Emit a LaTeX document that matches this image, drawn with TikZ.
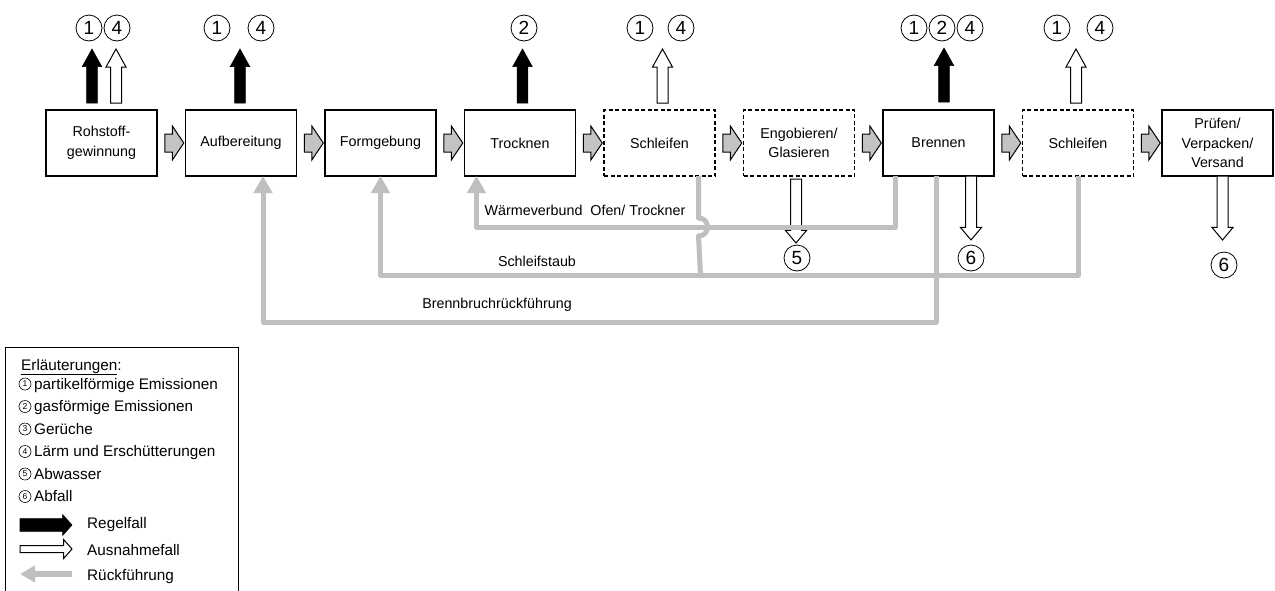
\documentclass[tikz,border=0pt]{standalone}
\usepackage{fontspec}
\setmainfont{Liberation Sans}
\usetikzlibrary{positioning,shapes.arrows,arrows.meta,calc}
\definecolor{rgray}{RGB}{191,191,191}
\definecolor{fgray}{RGB}{195,195,195}

\tikzset{
  stage/.style={draw,line width=1.3pt,minimum width=111pt,minimum height=66pt,
    align=center,inner sep=2pt,outer sep=0pt,font=\fontsize{14.3}{19.5}\selectfont},
  optstage/.style={stage,line width=1.2pt,dash pattern=on 4pt off 2.5pt},
  flowarrow/.style={single arrow,draw,fill=fgray,line width=1pt,minimum height=19pt,
    inner xsep=0pt,inner ysep=8.5pt,single arrow head extend=8pt,single arrow tip angle=112},
  blockarr/.style={single arrow,draw,minimum height=54pt,inner xsep=0pt,inner ysep=5pt,
    single arrow head extend=4.5pt,single arrow tip angle=58,anchor=tail,outer sep=0pt},
  regel/.style={blockarr,fill=black,line width=0.6pt,rotate=90},
  ausnahme/.style={blockarr,fill=white,line width=1pt,rotate=90},
  ausab/.style={blockarr,fill=white,line width=1pt,rotate=-90,minimum height=64pt,
    single arrow tip angle=80,single arrow head extend=5pt},
  ruck/.style={draw=rgray,line width=5pt,line join=round,-{Triangle[width=18pt,length=17pt]}},
  ruckline/.style={draw=rgray,line width=5pt,line join=round},
  circnum/.style={circle,draw,line width=0.8pt,minimum size=26pt,inner sep=0pt,
    font=\fontsize{19}{19}\selectfont},
  legnum/.style={circle,draw,line width=0.6pt,minimum size=12pt,inner sep=0pt,
    font=\fontsize{8.5}{8.5}\selectfont},
  lbl/.style={font=\fontsize{14.3}{17}\selectfont,inner sep=1pt},
  leg/.style={font=\fontsize{15.3}{18}\selectfont,inner sep=0pt,anchor=base west}
}

\begin{document}
\begin{tikzpicture}[x=1pt,y=-1pt]
\useasboundingbox (0,0) rectangle (1275,590);
% process chain
\node[stage] (b1) at (101.5,143) {Rohstoff-\\gewinnung};
\node[stage,right=28.5pt of b1] (b2) {Aufbereitung};
\node[stage,right=28.5pt of b2] (b3) {Formgebung};
\node[stage,right=28.5pt of b3] (b4) {Trocknen};
\node[optstage,right=28.5pt of b4] (b5) {Schleifen};
\node[optstage,right=28.5pt of b5] (b6) {Engobieren/\\Glasieren};
\node[stage,right=28.5pt of b6] (b7) {Brennen};
\node[optstage,right=28.5pt of b7] (b8) {Schleifen};
\node[stage,right=28.5pt of b8] (b9) {Prüfen/\\Verpacken/\\Versand};
\foreach \a/\b [count=\i] in {b1/b2,b2/b3,b3/b4,b4/b5,b5/b6,b6/b7,b7/b8,b8/b9}
  \node[flowarrow] (fa\i) at ($(\a.east)!.5!(\b.west)$) {};

% emissions
\node[regel] (e1) at ([xshift=-9.5pt,yshift=7pt]b1.north) {};
\node[ausnahme] (e1w) at ([xshift=14.5pt,yshift=7pt]b1.north) {};
\node[regel] (e2) at ([xshift=-1pt,yshift=7pt]b2.north) {};
\node[regel] (e4) at ([xshift=2.5pt,yshift=7pt]b4.north) {};
\node[ausnahme] (e5) at ([xshift=3pt,yshift=7pt]b5.north) {};
\node[regel] (e7) at ([xshift=5.5pt,yshift=8pt]b7.north) {};
\node[ausnahme] (e8) at ([xshift=-2pt,yshift=7pt]b8.north) {};
\node[ausab] (d6) at ([xshift=-3pt,yshift=-3pt]b6.south) {};
\node[ausab] (d7) at ([xshift=32.5pt]b7.south) {};
\node[ausab] (d9) at ([xshift=5pt]b9.south) {};

\foreach \x/\t [count=\i] in {89/1,117/4,217/1,261/4,524/2,640/1,681/4,914/1,942/2,970/4,1057/1,1100/4}
  \node[circnum] (n\i) at (\x,28) {\t};
\node[circnum] (n5b) at (797,258) {5};
\node[circnum] (n6b) at (971,258) {6};
\node[circnum] (n6c) at (1224,265) {6};

% return flows
\draw[ruck] ([xshift=-43.5pt]b7.south) -- ++(0,51) -| ([xshift=-43.5pt]b4.south);
\draw[ruck] (b8.south) -- ++(0,99) -| (b3.south);
\draw[ruckline] ([xshift=39pt]b5.south) -- ++(0,42) coordinate (hop)
  .. controls +(12,0) and +(12,0) .. ++(0,18) -- ++(2,39);
\draw[ruck] ([xshift=-2.5pt]b7.south) -- ++(0,146) -| ([xshift=22pt]b2.south);
\node[lbl] (w) at (585,210) {Wärmeverbund\ \ Ofen/ Trockner};
\node[lbl] (s) at (537,261) {Schleifstaub};
\node[lbl] (r) at (497,305) {Brennbruchrückführung};

% legend
\draw[line width=1pt] (5,347) rectangle (238,600);
\node[leg] (lh) at (21,370) {\underline{Erläuterungen}:};
\foreach \c/\t [count=\i] in {1/partikelförmige Emissionen,2/gasförmige Emissionen,3/Gerüche,%
    4/Lärm und Erschütterungen,5/Abwasser,6/Abfall} {
  \node[legnum] (lc\i) at (25,{384+22.5*(\i-1)}) {\c};
  \node[leg] (lt\i) at (34,{389+22.5*(\i-1)}) {\t};
}
\node[blockarr,fill=black,line width=0.6pt,minimum height=52pt,inner ysep=6pt,
  single arrow head extend=4pt,single arrow tip angle=96] (la1) at (20,525) {};
\node[blockarr,fill=white,line width=1pt,minimum height=52pt,inner ysep=3pt,
  single arrow head extend=6pt,single arrow tip angle=97] (la2) at (20,549) {};
\coordinate (la3) at (72,574);
\draw[ruck,line width=6pt,-{Triangle[width=16pt,length=15pt]}] (la3) -- +(-52,0);
\node[leg] (lr1) at (87,528) {Regelfall};
\node[leg] (lr2) at (87,555) {Ausnahmefall};
\node[leg] (lr3) at (87,580) {Rückführung};
\end{tikzpicture}
\end{document}
